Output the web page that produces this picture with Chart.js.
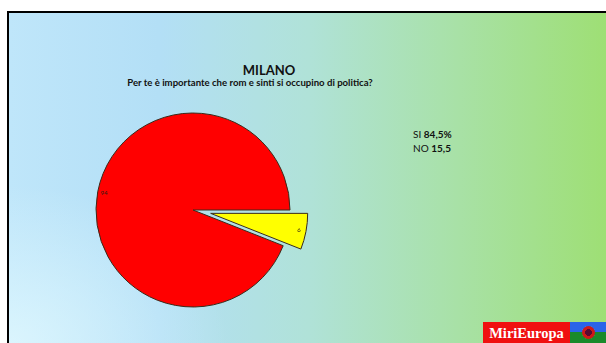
<!DOCTYPE html>
<html>
<head>
<meta charset="utf-8">
<script src="https://cdn.jsdelivr.net/npm/chart.js@4/dist/chart.umd.min.js"></script>
<style>
    html, body { margin: 0; padding: 0; background: #fff; }
    body { width: 606px; height: 343px; position: relative; overflow: hidden; font-family: Lato, "Open Sans", sans-serif; }
    #slide {
        position: absolute; left: 7px; top: 11px; width: 599px; height: 332px;
        border-left: 2px solid #000; border-top: 2px solid #000;
        background:
            radial-gradient(ellipse 220px 160px at 0% 100%, rgba(228, 250, 255, 0.75), rgba(228, 250, 255, 0)),
            linear-gradient(to right, #bfe6fa 0%, #b3dff6 25%, #b0e2d8 50%, #a8e1a6 75%, #9edf74 100%);
    }
    .txt { position: absolute; color: #111; white-space: nowrap; }
    #title { left: 5px; width: 528px; top: 62px; text-align: center; font-weight: bold; font-size: 13px; }
    #subtitle { left: 0; width: 500px; top: 77px; text-align: center; font-weight: bold; font-size: 9.6px; }
    #summary { left: 413px; top: 127px; font-size: 10px; line-height: 14px; }
    #summary b { font-weight: bold; }
    #logo { position: absolute; left: 483px; top: 322px; width: 87px; height: 21px; background: #f01010;
        color: #fff; font-family: "Liberation Serif", "DejaVu Serif", serif; font-weight: bold; font-size: 14.5px;
        line-height: 22px; text-align: center; }
    #flag { position: absolute; left: 570px; top: 322px; width: 36px; height: 21px;
        background: linear-gradient(to bottom, #2a64e8 0%, #2a64e8 50%, #1a8a2a 50%, #1a8a2a 100%); }
    #flag div { position: absolute; left: 12px; top: 4px; width: 13px; height: 13px; border-radius: 50%;
        background: radial-gradient(circle, #5a0a30 0 35%, #d01818 36% 70%, #f0c020 71% 80%, rgba(0,0,0,0) 81%); }
    canvas { position: absolute; left: 0; top: 0; }
</style>
</head>
<body>
<div id="slide"></div>
<div class="txt" id="title">MILANO</div>
<div class="txt" id="subtitle">Per te è importante che rom e sinti si occupino di politica?</div>
<div class="txt" id="summary"></div>
<div id="logo">MiriEuropa</div>
<div id="flag"><div></div></div>
<canvas id="pie" width="606" height="343"></canvas>
<script>
const categories = ['SI', 'NO'];
const sliceValues = [94, 6];
const summaryValues = ['84,5%', '15,5'];
const sliceColors = ['#ff0000', '#ffff00'];
const sliceOffsets = [0, 72];

document.getElementById('summary').innerHTML = categories
    .map((c, i) => c + ' <b>' + summaryValues[i] + '</b>')
    .join('<br>');

const total = sliceValues.reduce((a, b) => a + b, 0);
// put the small slice right after 3 o'clock, going clockwise
const rotation = 90 + 360 * sliceValues[sliceValues.length - 1] / total;

// chart.js grows and narrows an offset arc; pull it back to a plain shifted wedge
const explodeFix = {
    id: 'explodeFix',
    afterDatasetUpdate(chart, args) {
        args.meta.data.forEach(arc => {
            const off = (arc.options.offset || 0) / 4;
            if (!off) return;
            const fix = 1 - Math.sin(Math.min(Math.PI, arc.circumference));
            const grow = off * fix;
            const r = arc.outerRadius;
            arc.outerRadius = r - grow;
            const widen = grow / Math.PI / r / 2;
            arc.startAngle -= widen;
            arc.endAngle += widen;
        });
    }
};

const sliceLabels = {
    id: 'sliceLabels',
    afterDatasetsDraw(chart) {
        const ctx = chart.ctx;
        const meta = chart.getDatasetMeta(0);
        ctx.save();
        ctx.font = '6px Lato, sans-serif';
        ctx.fillStyle = '#2a1a10';
        ctx.textAlign = 'center';
        ctx.textBaseline = 'middle';
        meta.data.forEach((arc, i) => {
            const mid = (arc.startAngle + arc.endAngle) / 2;
            const off = (arc.options.offset || 0) / 4;
            const fix = 1 - Math.sin(Math.min(Math.PI, arc.circumference));
            const r = arc.outerRadius + off * fix - 7;
            const x = arc.x + Math.cos(mid) * (off + r);
            const y = arc.y + Math.sin(mid) * (off + r);
            ctx.fillText(String(sliceValues[i]), x, y);
        });
        ctx.restore();
    }
};

new Chart(document.getElementById('pie'), {
    type: 'pie',
    data: {
        labels: categories,
        datasets: [{
            data: sliceValues,
            backgroundColor: sliceColors,
            borderColor: '#3a2a1a',
            borderWidth: 1,
            offset: sliceOffsets,
            hoverOffset: 0
        }]
    },
    options: {
        responsive: false,
        animation: false,
        rotation,
        radius: 97,
        layout: { padding: { left: 85, right: 305, top: 110, bottom: 33 } },
        plugins: {
            legend: { display: false },
            tooltip: { enabled: false },
            title: { display: false }
        }
    },
    plugins: [explodeFix, sliceLabels]
});
</script>
</body>
</html>
